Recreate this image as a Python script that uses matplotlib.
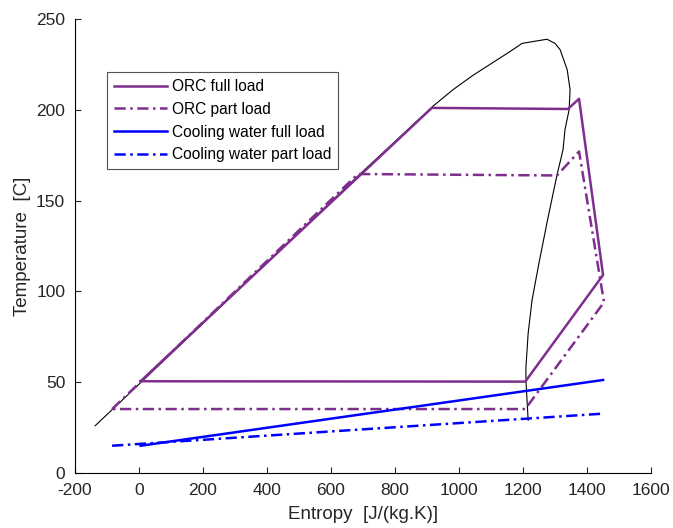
import matplotlib
matplotlib.use("Agg")
import matplotlib.pyplot as plt

plt.rcParams["font.family"] = ["Liberation Sans", "DejaVu Sans"]
plt.rcParams["axes.unicode_minus"] = False

# saturation dome (liquid side -> critical point -> vapour side)
dome_s = [-137, 5, 684, 919, 981, 1044, 1106, 1159, 1197, 1240, 1275,
          1300, 1316, 1338, 1347, 1344, 1331, 1325, 1306, 1275, 1247, 1228, 1216, 1209, 1209, 1216]
dome_T = [26, 49.7, 163.5, 202, 211, 219, 226, 232, 236.5, 237.8, 238.8,
          236.5, 233, 222, 211, 200, 189, 178, 164, 138, 113, 95, 77, 58, 51, 29]

# ORC cycles
orc_full_s = [5, 915, 1340, 1375, 1450, 1207, 5]
orc_full_T = [50.5, 201, 200.4, 206, 109, 50.3, 50.5]
orc_part_s = [-84, 684, 1306, 1375, 1453, 1207, -84]
orc_part_T = [35.2, 164.6, 163.8, 177, 94, 35.2, 35.2]

# cooling water
cw_full_s = [5, 1450]
cw_full_T = [15, 51.2]
cw_part_s = [-84, 1453]
cw_part_T = [15, 32.7]

purple = "#7E2F8E"
blue = "#0000FF"
dashdot = (0, (4.5, 1.8, 1.0, 1.8))

fig = plt.figure(figsize=(6.73, 5.28), dpi=100)
ax = fig.add_axes([0.1114, 0.1042, 0.856, 0.86])

ax.plot(dome_s, dome_T, color="black", linewidth=0.8)
ax.plot(orc_full_s, orc_full_T, color=purple, linewidth=1.8, label="ORC full load")
ax.plot(orc_part_s, orc_part_T, color=purple, linewidth=1.8, linestyle=dashdot,
        label="ORC part load")
ax.plot(cw_full_s, cw_full_T, color=blue, linewidth=1.8, label="Cooling water full load")
ax.plot(cw_part_s, cw_part_T, color=blue, linewidth=1.8, linestyle=dashdot,
        label="Cooling water part load")

ax.set_xlim(-200, 1600)
ax.set_ylim(0, 250)
ax.set_xticks(range(-200, 1601, 200))
ax.set_yticks(range(0, 251, 50))
ax.spines["top"].set_visible(False)
ax.spines["right"].set_visible(False)
ax.tick_params(direction="in", length=4.5, labelsize=12.5, colors="#262626", pad=7)
ax.set_xlabel("Entropy  [J/(kg.K)]", fontsize=13.5, color="#262626", labelpad=6)
ax.set_ylabel("Temperature  [C]", fontsize=13.5, color="#262626", labelpad=4)

handles, labels = ax.get_legend_handles_labels()
leg = ax.legend(handles, labels, loc="upper left", bbox_to_anchor=(0.0556, 0.883),
                borderaxespad=0, fontsize=11.2, frameon=True, fancybox=False,
                handlelength=3.4, handletextpad=0.32, labelspacing=0.5,
                borderpad=0.45)
leg.get_frame().set_edgecolor("#262626")
leg.get_frame().set_linewidth(0.8)

plt.savefig("out.png", dpi=100)
